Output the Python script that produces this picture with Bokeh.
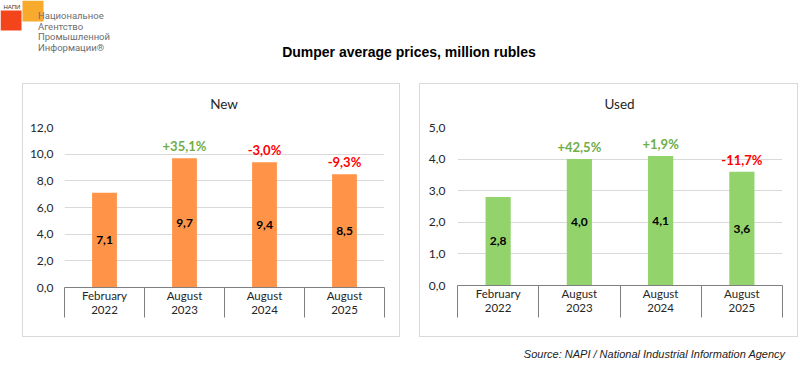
import numpy as np
from bokeh.plotting import figure
from bokeh.layouts import column, row
from bokeh.models import Range1d, FixedTicker, Spacer
from bokeh.core.properties import value
from bokeh.embed import file_html
from bokeh.resources import INLINE

# ---------------- data ----------------
categories = ["February\n2022", "August\n2023", "August\n2024", "August\n2025"]
new_values = [7.1, 9.7, 9.4, 8.5]
new_changes = ["", "+35,1%", "-3,0%", "-9,3%"]
used_values = [2.8, 4.0, 4.1, 3.6]
used_changes = ["", "+42,5%", "+1,9%", "-11,7%"]
new_ticks = [0, 2, 4, 6, 8, 10, 12]
new_tick_labels = ["0,0", "2,0", "4,0", "6,0", "8,0", "10,0", "12,0"]
used_ticks = [0, 1, 2, 3, 4, 5]
used_tick_labels = ["0,0", "1,0", "2,0", "3,0", "4,0", "5,0"]
panel_titles = ["New", "Used"]
title_text = "Dumper average prices, million rubles"
source_text = "Source: NAPI / National Industrial Information Agency"
logo_small = "НАПИ"
logo_lines = ["Национальное", "Агентство", "Промышленной", "Информации®"]

# ---------------- styles ----------------
FONT = "Lato"
BOX = "#D9D9D9"
AXIS = "#7F7F7F"
GRID = "#D9D9D9"
TXT = "#262626"
UP = "#70AD47"
DOWN = "#FF0000"


def fmt(v):
    return f"{v:.1f}".replace(".", ",")


def line_el(w, h):
    return Spacer(width=w, height=h, styles={"background-color": BOX})


def blank_fig(w, h, x0, x1, y0, y1):
    f = figure(width=w, height=h, x_range=Range1d(x0, x1), y_range=Range1d(y0, y1),
               toolbar_location=None, output_backend="svg", title=None, min_border=0,
               x_axis_location=None, y_axis_location=None)
    f.outline_line_color = None
    f.grid.visible = False
    f.background_fill_color = "white"
    f.border_fill_color = "white"
    return f


def title_fig(name, w, h, cx, cy):
    f = blank_fig(w, h, 0, w, h, 0)
    f.text(x=[cx], y=[cy], text=[name], text_align="center", text_baseline="middle",
           text_font=value(FONT), text_font_size="13.5px", text_color=TXT)
    return f


def panel(values, changes, ticks, tick_labels, bar_color, width, height,
          mb_left, mb_right, mb_top, mb_bottom, sep_len, y_standoff):
    n = len(categories)
    xs = [float(i) + 0.5 for i in range(n)]
    p = figure(width=width, height=height, x_range=Range1d(0, n),
               y_range=Range1d(ticks[0], ticks[-1]),
               toolbar_location=None, output_backend="svg", title=None,
               min_border_left=mb_left, min_border_right=mb_right,
               min_border_top=mb_top, min_border_bottom=mb_bottom)
    p.outline_line_color = None
    p.background_fill_color = "white"
    p.border_fill_color = "white"
    p.xgrid.visible = False
    p.ygrid.ticker = FixedTicker(ticks=ticks)
    p.ygrid.grid_line_color = GRID
    p.ygrid.grid_line_width = 1

    yax = p.yaxis[0]
    yax.ticker = FixedTicker(ticks=ticks)
    yax.major_label_overrides = {t: l for t, l in zip(ticks, tick_labels)}
    yax.axis_line_color = None
    yax.major_tick_line_color = None
    yax.minor_tick_line_color = None
    yax.major_tick_out = 0
    yax.minor_tick_out = 0
    yax.major_label_standoff = y_standoff
    yax.major_label_text_font = FONT
    yax.major_label_text_font_size = "12px"
    yax.major_label_text_color = TXT

    xax = p.xaxis[0]
    xax.ticker = FixedTicker(ticks=xs, minor_ticks=[float(i) for i in range(n + 1)])
    xax.major_label_overrides = {x: c for x, c in zip(xs, categories)}
    xax.major_tick_line_color = None
    xax.major_tick_out = 0
    xax.major_tick_in = 0
    xax.minor_tick_in = 0
    xax.minor_tick_out = sep_len
    xax.minor_tick_line_color = AXIS
    xax.axis_line_color = AXIS
    xax.major_label_standoff = 1 - sep_len
    xax.major_label_text_font = FONT
    xax.major_label_text_font_size = "11.5px"
    xax.major_label_text_color = TXT
    xax.major_label_text_line_height = 1.1

    p.vbar(x=xs, top=values, width=0.31, fill_color=bar_color, line_color=None)
    p.text(x=xs, y=[v / 2 for v in values], text=[fmt(v) for v in values],
           text_align="center", text_baseline="middle", text_font=value(FONT),
           text_font_style="bold", text_font_size="12px", text_color="black")
    colors = [UP if c.startswith("+") else DOWN for c in changes]
    p.text(x=xs, y=values, text=changes, y_offset=-12, text_align="center",
           text_baseline="middle", text_font=value(FONT), text_font_style="bold",
           text_font_size="13px", text_color=colors)
    return p


# ---------------- header ----------------
W = 800
header = blank_fig(W, 83, 0, W, 83, 0)
header.quad(left=[0], right=[21], top=[10], bottom=[30], fill_color="#F4441C", line_color=None)
header.quad(left=[22], right=[43], top=[0], bottom=[21], fill_color="#F8AA2C", line_color=None)
header.text(x=[3], y=[6], text=[logo_small], text_baseline="middle", text_font=value("Liberation Sans"),
            text_font_size="6px", text_color="#333333")
header.text(x=[37.5] * len(logo_lines), y=[15, 25.5, 36, 46.5], text=logo_lines,
            text_baseline="middle", text_align="left",
            text_font=value("Roboto"), text_font_size="9.5px",
            text_color="#6E6E6E")
header.text(x=[408.5], y=[51.5], text=[title_text], text_align="center", text_baseline="middle",
            text_font=value("Liberation Sans"), text_font_style="bold", text_font_size="14px",
            text_color="black")

# ---------------- panels ----------------
TOP = 33
PAD = 10
left_t = title_fig(panel_titles[0], 376, TOP, 187.5, 19)
left_p = panel(new_values, new_changes, new_ticks, new_tick_labels, "#FF9347",
               376, 252 - TOP, 41, 15, PAD, 49, 30, 11)
right_t = title_fig(panel_titles[1], 377, TOP, 188, 19)
right_p = panel(used_values, used_changes, used_ticks, used_tick_labels, "#92D36C",
                377, 252 - TOP, 37, 15, PAD, 51, 32, 12)


def boxed(t, p, w, h):
    return column(line_el(w + 2, 1),
                  row(line_el(1, h), column(t, p), line_el(1, h)),
                  line_el(w + 2, 1))


middle = row(Spacer(width=22, height=254), boxed(left_t, left_p, 376, 252),
             Spacer(width=19, height=254), boxed(right_t, right_p, 377, 252),
             Spacer(width=3, height=254))

# ---------------- footer ----------------
footer = blank_fig(W, 36, 0, W, 373, 337)
footer.text(x=[785], y=[353], text=[source_text], text_align="right", text_baseline="middle",
            text_font=value("Liberation Sans"), text_font_style="italic", text_font_size="11px",
            text_color="#222222")

layout = column(header, middle, footer)
open("out.html", "w").write(file_html(layout, INLINE))
